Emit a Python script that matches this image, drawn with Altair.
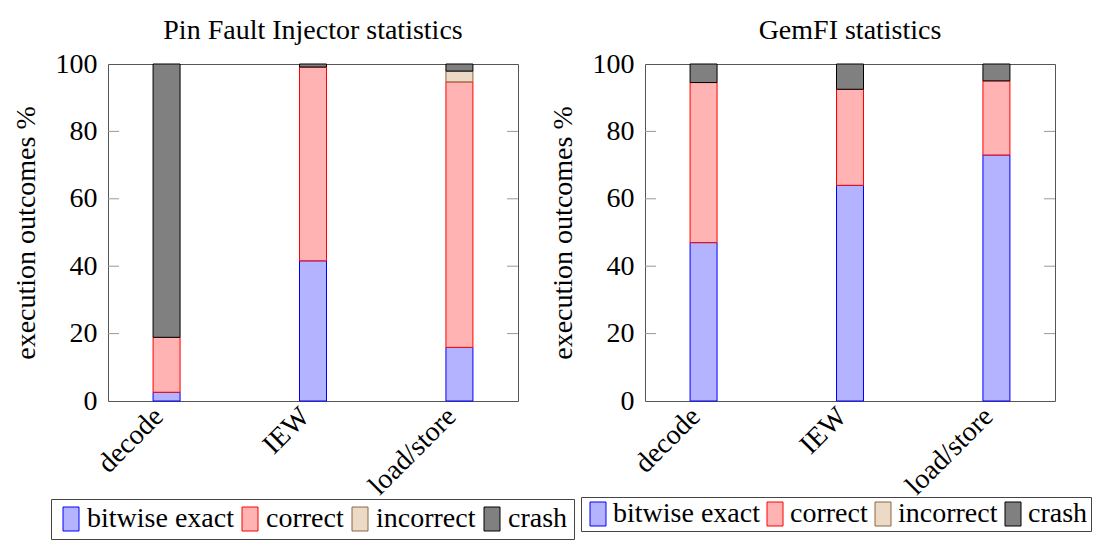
import altair as alt
import pandas as pd

categories = ["decode", "IEW", "load/store"]
outcomes = ["bitwise exact", "correct", "incorrect", "crash"]

pin_bitwise = [2.6, 41.6, 15.9]
pin_correct = [16.3, 57.5, 78.8]
pin_incorrect = [0.0, 0.0, 3.2]
pin_crash = [81.1, 0.9, 2.1]

gem_bitwise = [47.0, 64.0, 73.0]
gem_correct = [47.5, 28.5, 22.0]
gem_incorrect = [0.0, 0.0, 0.0]
gem_crash = [5.5, 7.5, 5.0]

y_ticks = [0, 20, 40, 60, 80, 100]
inner_ticks = [20, 40, 60, 80]

fill_colors = ["#b3b3ff", "#ffb3b3", "#ecd9c6", "#808080"]
stroke_colors = ["#0000ff", "#ff0000", "#8c6640", "#000000"]

FONT = "Liberation Serif"
FS = 28
W, H = 410, 337


def make_df(series):
    rows = []
    for oi, (o, vals) in enumerate(zip(outcomes, series)):
        for c, v in zip(categories, vals):
            if v > 0:
                rows.append({"category": c, "outcome": o, "order": oi, "value": v})
    return pd.DataFrame(rows)


def y_axis():
    return alt.Axis(values=y_ticks, title="execution outcomes %",
                    labelFont=FONT, labelFontSize=FS, titleFont=FONT, titleFontSize=FS,
                    labelPadding=11, titlePadding=15)


def panel(df, title, lx, ly, pad, loff, cpad):
    legend = alt.Legend(
        title=None, orient="none", legendX=lx, legendY=ly,
        direction="horizontal", columns=4,
        symbolType="M-1,-1.5H1V1.5H-1Z", symbolSize=256,
        symbolStrokeWidth=1, symbolOpacity=1,
        labelFont=FONT, labelFontSize=FS, labelColor="black", labelLimit=400,
        labelOffset=loff, columnPadding=cpad,
        strokeColor="#444", fillColor="white", padding=pad, cornerRadius=0,
    )
    yscale = alt.Scale(domain=[0, 100], nice=False)
    bars = alt.Chart(df).mark_bar(size=27, strokeWidth=1, opacity=1).encode(
        x=alt.X("category:N", sort=categories,
                scale=alt.Scale(type="point", padding=0.4),
                axis=alt.Axis(title=None, labelAngle=315, labelAlign="right",
                              labelBaseline="middle", labelPadding=11, labelOffset=-8,
                              labelFont=FONT, labelFontSize=FS)),
        y=alt.Y("value:Q", stack="zero", scale=yscale, axis=y_axis()),
        fill=alt.Fill("outcome:N", scale=alt.Scale(domain=outcomes, range=fill_colors),
                      legend=legend),
        stroke=alt.Stroke("outcome:N", scale=alt.Scale(domain=outcomes, range=stroke_colors),
                          legend=legend),
        order=alt.Order("order:Q"),
    )
    tdf = pd.DataFrame({"v": inner_ticks})
    tl = alt.Chart(tdf).mark_rule(color="#999999", strokeWidth=1).encode(
        y=alt.Y("v:Q", scale=yscale, axis=y_axis()), x=alt.value(0), x2=alt.value(11))
    tr = alt.Chart(tdf).mark_rule(color="#999999", strokeWidth=1).encode(
        y=alt.Y("v:Q", scale=yscale, axis=y_axis()), x=alt.value(W - 11), x2=alt.value(W))
    return alt.layer(bars, tl, tr).properties(
        width=W, height=H,
        title=alt.TitleParams(title, font=FONT, fontSize=FS, fontWeight="normal",
                              color="black", offset=5, anchor="middle"),
    )


left = panel(make_df([pin_bitwise, pin_correct, pin_incorrect, pin_crash]),
             "Pin Fault Injector statistics", -57, 435, 6, 2, 2)
right = panel(make_df([gem_bitwise, gem_correct, gem_incorrect, gem_crash]),
              "GemFI statistics", -64, 433, 3, 1, 1)

chart = alt.hconcat(left, right, spacing=127, bounds="flush").resolve_scale(
    fill="independent", stroke="independent"
).resolve_legend(fill="independent", stroke="independent").configure(
    font=FONT,
).configure_axis(
    labelFont=FONT, labelFontSize=FS, labelColor="black",
    titleFont=FONT, titleFontSize=FS, titleFontWeight="normal", titleColor="black",
    domain=False, ticks=False, grid=False,
).configure_view(
    stroke="#555555", strokeWidth=1).properties(
    padding={"left": 3, "top": 8, "right": 0, "bottom": 0})

chart.save("out.html", embed_options={"renderer": "svg", "actions": False})
